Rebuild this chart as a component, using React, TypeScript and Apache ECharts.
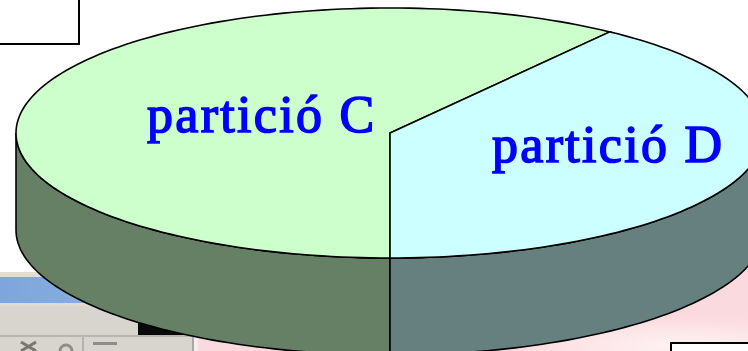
import React, { useEffect, useRef } from "react";
import * as echarts from "echarts";

const partitions = ["partició C", "partició D"];
const shares = [60, 40];

const topColors = ["#CCFFCC", "#CCFFFF"];
const sideColors = ["#668066", "#668080"];
const labelAnchors = [[147, 88], [492, 118]];

const CX = 390, CY = 133, RX = 374, RY = 125, DEPTH = 97;
const STROKE = "#000";

const pt = (deg: number, cy: number) => {
  const a = (deg * Math.PI) / 180;
  return [CX + RX * Math.sin(a), cy - RY * Math.cos(a)];
};
const arcPts = (a0: number, a1: number, cy: number) => {
  const out: number[][] = [];
  const n = Math.max(2, Math.ceil(Math.abs(a1 - a0) / 1.5));
  for (let i = 0; i <= n; i++) out.push(pt(a0 + ((a1 - a0) * i) / n, cy));
  return out;
};

const renderSlice = (params: any) => {
  const i = params.dataIndex;
  const total = shares.reduce((s, v) => s + v, 0);
  const before = shares.slice(0, i).reduce((s, v) => s + v, 0);
  const start = 180 + (before / total) * 360;
  const end = start + (shares[i] / total) * 360;
  const children: any[] = [];
  for (const [lo, hi] of [[90, 270], [450, 630]]) {
    const a0 = Math.max(start, lo), a1 = Math.min(end, hi);
    if (a1 > a0) {
      children.push({
        type: "polygon",
        shape: { points: [...arcPts(a0, a1, CY), ...arcPts(a1, a0, CY + DEPTH)] },
        style: { fill: sideColors[i], stroke: STROKE, lineWidth: 1.6 },
      });
    }
  }
  children.push({
    type: "polygon",
    shape: { points: [[CX, CY], ...arcPts(start, end, CY)] },
    style: { fill: topColors[i], stroke: STROKE, lineWidth: 1.6 },
  });
  children.push({
    type: "text",
    x: labelAnchors[i][0],
    y: labelAnchors[i][1],
    style: {
      text: partitions[i],
      x: 0,
      y: 0,
      fill: "#0000FF",
      stroke: "#0000FF",
      lineWidth: 1.6,
      font: '52px "Liberation Serif"',
    },
  });
  return { type: "group", children };
};

const rect = (x: number, y: number, width: number, height: number, fill: any, extra: any = {}) => ({
  type: "rect",
  shape: { x, y, width, height },
  style: { fill, ...extra },
  silent: true,
});

const backdrop = [
  rect(-4, -4, 83, 48, "#fff", { stroke: "#000", lineWidth: 2 }),
  rect(198, 255, 550, 96, new echarts.graphic.RadialGradient(0.88, 0.95, 0.32, [
    { offset: 0, color: "#FDF3F4" },
    { offset: 1, color: "#FADADE" },
  ])),
  rect(671, 343, 80, 12, "#fff", { stroke: "#000", lineWidth: 2 }),
  rect(0, 272, 198, 79, "#D8D5CE"),
  rect(0, 272, 198, 5, "#E2DCD2"),
  rect(0, 277, 198, 26, new echarts.graphic.LinearGradient(0, 0, 1, 0, [
    { offset: 0, color: "#7FA6DC" },
    { offset: 1, color: "#8FB4E4" },
  ])),
  rect(0, 303, 198, 3, "#E0DCD0"),
  rect(138, 321, 60, 15, "#0A0A0A"),
  rect(0, 335, 198, 2, "#B8B6AE"),
  rect(192, 336, 2, 15, "#A9A8A2"),
  rect(194, 336, 4, 15, "#F2F0EC"),
  rect(82, 337, 2, 14, "#B4B2AC"),
  rect(93, 342, 24, 3, "#8E8D88"),
  { type: "line", shape: { x1: 21, y1: 342, x2: 36, y2: 351 }, style: { stroke: "#77766F", lineWidth: 3 }, silent: true },
  { type: "line", shape: { x1: 36, y1: 342, x2: 21, y2: 351 }, style: { stroke: "#77766F", lineWidth: 3 }, silent: true },
  { type: "arc", shape: { cx: 66, cy: 351, r: 6, startAngle: Math.PI, endAngle: 0 }, style: { stroke: "#8E8D88", lineWidth: 3, fill: "none" }, silent: true },
];

export default function App() {
  const ref = useRef<HTMLDivElement>(null);
  useEffect(() => {
    document.body.style.margin = "0";
    const chart = echarts.init(ref.current!, null, { renderer: "svg" });
    chart.setOption({
      animation: false,
      backgroundColor: "#fff",
      graphic: { elements: backdrop },
      series: [
        {
          type: "custom",
          coordinateSystem: "none",
          silent: true,
          clip: false,
          renderItem: renderSlice,
          data: shares.map((value, i) => ({ name: partitions[i], value })),
        },
      ],
    });
    return () => chart.dispose();
  }, []);
  return (
    <>
      <style>{"svg text { letter-spacing: 2.3px; }"}</style>
      <div ref={ref} style={{ width: 748, height: 351 }} />
    </>
  );
}
